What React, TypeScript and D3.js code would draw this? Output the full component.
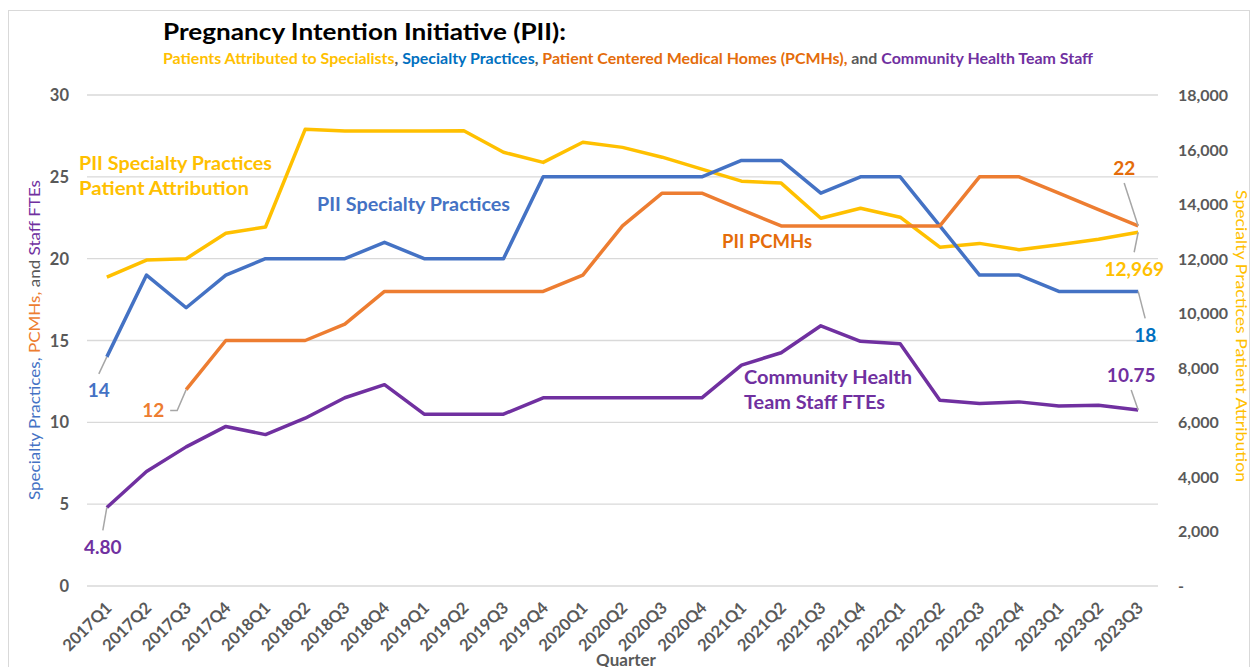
import React from 'react';
import * as d3 from 'd3';

// 분기 카테고리
const quarters = [
  '2017Q1', '2017Q2', '2017Q3', '2017Q4',
  '2018Q1', '2018Q2', '2018Q3', '2018Q4',
  '2019Q1', '2019Q2', '2019Q3', '2019Q4',
  '2020Q1', '2020Q2', '2020Q3', '2020Q4',
  '2021Q1', '2021Q2', '2021Q3', '2021Q4',
  '2022Q1', '2022Q2', '2022Q3', '2022Q4',
  '2023Q1', '2023Q2', '2023Q3'
];

// left axis series
const practices = [14, 19, 17, 19, 20, 20, 20, 21, 20, 20, 20, 25, 25, 25, 25, 25, 26, 26, 24, 25, 25, 22, 19, 19, 18, 18, 18];
const pcmhs: (number | null)[] = [null, null, 12, 15, 15, 15, 16, 18, 18, 18, 18, 18, 19, 22, 24, 24, 23, 22, 22, 22, 22, 22, 25, 25, 24, 23, 22];
const staffFtes = [4.8, 7.0, 8.5, 9.75, 9.25, 10.25, 11.5, 12.3, 10.5, 10.5, 10.5, 11.5, 11.5, 11.5, 11.5, 11.5, 13.5, 14.25, 15.9, 14.95, 14.8, 11.35, 11.15, 11.25, 11.0, 11.05, 10.75];

// right axis series
const attribution = [11320, 11950, 12000, 12930, 13160, 16740, 16680, 16680, 16680, 16690, 15900, 15530, 16270, 16080, 15720, 15280, 14840, 14770, 13480, 13850, 13520, 12420, 12560, 12330, 12510, 12710, 12969];

const leftTicks = [0, 5, 10, 15, 20, 25, 30];
const rightTicks = [0, 2000, 4000, 6000, 8000, 10000, 12000, 14000, 16000, 18000];

const COLORS = {
  blue: '#4472C4',
  blueText: '#0070C0',
  orange: '#ED7D31',
  orangeText: '#E46C0A',
  purple: '#7030A0',
  yellow: '#FFC000',
  gray: '#595959',
  grid: '#D9D9D9',
  leader: '#A6A6A6'
} as const;

const FONT = 'Lato, "Open Sans", sans-serif';

const W = 1253;
const H = 667;

export default function App() {
  const x = d3.scaleBand<string>().domain(quarters).range([87, 1158]);
  const cx = (i: number) => (x(quarters[i]) ?? 0) + x.bandwidth() / 2;
  const yL = d3.scaleLinear().domain([0, 30]).range([586, 95]);
  const yR = d3.scaleLinear().domain([0, 18000]).range([586, 95]);

  const lineL = d3.line<number | null>()
    .defined(d => d !== null)
    .x((_, i) => cx(i))
    .y(d => yL(d as number));
  const lineR = d3.line<number>()
    .x((_, i) => cx(i))
    .y(d => yR(d));

  const last = quarters.length - 1;
  const fmtR = (v: number) => (v === 0 ? '-' : d3.format(',')(v));

  // 데이터 레이블 리더 라인 (점 기준 오프셋)
  const leader = (px: number, py: number, pts: [number, number][]) =>
    [[px, py], ...pts.map(([dx, dy]) => [px + dx, py + dy])].map(p => p.join(',')).join(' ');

  return (
    <svg width={W} height={H} style={{ position: 'absolute', left: 0, top: 0, background: '#fff' }} fontFamily={FONT}>
      <rect x={8.5} y={10.5} width={1241} height={700} fill="#fff" stroke={COLORS.grid} strokeWidth={1} />

      {/* 제목 */}
      <text x={163} y={40} fontSize={23} fontWeight={700} fill="#000" textLength={403} lengthAdjust="spacingAndGlyphs">
        Pregnancy Intention Initiative (PII):
      </text>
      <text x={163} y={64} fontSize={14.5} fontWeight={700} textLength={930} lengthAdjust="spacingAndGlyphs">
        <tspan fill={COLORS.yellow}>Patients Attributed to Specialists</tspan>
        <tspan fill={COLORS.gray}>, </tspan>
        <tspan fill={COLORS.blueText}>Specialty Practices</tspan>
        <tspan fill={COLORS.gray}>, </tspan>
        <tspan fill={COLORS.orangeText}>Patient Centered Medical Homes (PCMHs),</tspan>
        <tspan fill={COLORS.gray}> and </tspan>
        <tspan fill={COLORS.purple}>Community Health Team Staff</tspan>
      </text>

      {/* 그리드 */}
      {leftTicks.map(t => (
        <line key={t} x1={87} x2={1158} y1={yL(t)} y2={yL(t)} stroke={COLORS.grid} strokeWidth={1.3} />
      ))}

      {/* left ticks */}
      {leftTicks.map(t => (
        <text key={t} x={69} y={yL(t) + 6} textAnchor="end" fontSize={16.5} fontWeight={700} fill={COLORS.gray}>
          {t}
        </text>
      ))}

      {/* right ticks */}
      {rightTicks.map(t => (
        <text key={t} x={1178} y={yR(t) + 6} fontSize={16} fontWeight={700} fill={COLORS.gray}>
          {fmtR(t)}
        </text>
      ))}

      {/* x ticks */}
      {quarters.map((q, i) => (
        <text
          key={q}
          transform={`translate(${cx(i) + 6},${609}) rotate(-45)`}
          textAnchor="end"
          fontSize={16.5}
          fontWeight={700}
          fill={COLORS.gray}
        >
          {q}
        </text>
      ))}
      <text x={626} y={666} textAnchor="middle" fontSize={17} fontWeight={700} fill={COLORS.gray}>Quarter</text>

      {/* axis titles */}
      <text transform="translate(40,340) rotate(-90)" textAnchor="middle" fontSize={15.5} textLength={320} lengthAdjust="spacingAndGlyphs">
        <tspan fill={COLORS.blue}>Specialty Practices, </tspan>
        <tspan fill={COLORS.orange}>PCMHs, </tspan>
        <tspan fill={COLORS.gray}>and </tspan>
        <tspan fill={COLORS.purple}>Staff FTEs</tspan>
      </text>
      <text transform="translate(1236,336) rotate(90)" textAnchor="middle" fontSize={15.5} fill={COLORS.yellow} textLength={292} lengthAdjust="spacingAndGlyphs">
        Specialty Practices Patient Attribution
      </text>

      {/* 선 */}
      <path d={lineR(attribution) || ''} fill="none" stroke={COLORS.yellow} strokeWidth={3.5} strokeLinejoin="round" />
      <path d={lineL(practices) || ''} fill="none" stroke={COLORS.blue} strokeWidth={3.5} strokeLinejoin="round" />
      <path d={lineL(pcmhs) || ''} fill="none" stroke={COLORS.orange} strokeWidth={3.5} strokeLinejoin="round" />
      <path d={lineL(staffFtes) || ''} fill="none" stroke={COLORS.purple} strokeWidth={3.5} strokeLinejoin="round" />

      {/* series labels */}
      <text x={79} y={170} fontSize={18.5} fontWeight={700} fill={COLORS.yellow} textLength={193} lengthAdjust="spacingAndGlyphs">PII Specialty Practices</text>
      <text x={79} y={195} fontSize={18.5} fontWeight={700} fill={COLORS.yellow} textLength={170} lengthAdjust="spacingAndGlyphs">Patient Attribution</text>
      <text x={317} y={211} fontSize={18} fontWeight={700} fill={COLORS.blue} textLength={193} lengthAdjust="spacingAndGlyphs">PII Specialty Practices</text>
      <text x={722} y={248} fontSize={18} fontWeight={700} fill={COLORS.orangeText} textLength={90} lengthAdjust="spacingAndGlyphs">PII PCMHs</text>
      <text x={744} y={384} fontSize={18} fontWeight={700} fill={COLORS.purple} textLength={168} lengthAdjust="spacingAndGlyphs">Community Health</text>
      <text x={744} y={409} fontSize={18} fontWeight={700} fill={COLORS.purple} textLength={141} lengthAdjust="spacingAndGlyphs">Team Staff FTEs</text>

      {/* 리더 라인 */}
      <g fill="none" stroke={COLORS.leader} strokeWidth={1.5}>
        <polyline points={leader(cx(0), yL(practices[0]), [[-8, 17]])} />
        <polyline points={leader(cx(2), yL(pcmhs[2] as number), [[-9, 21], [-16, 21]])} />
        <polyline points={leader(cx(0), yL(staffFtes[0]), [[-4, 23]])} />
        <polyline points={leader(cx(last), yL(pcmhs[last] as number), [[-14, -43]])} />
        <polyline points={leader(cx(last), yR(attribution[last]), [[-4, 20]])} />
        <polyline points={leader(cx(last), yL(practices[last]), [[7, 27]])} />
        <polyline points={leader(cx(last), yL(staffFtes[last]), [[-7, -20]])} />
      </g>

      {/* 데이터 레이블 */}
      <g fontSize={19} fontWeight={700}>
        <text x={cx(0) - 8} y={397} textAnchor="middle" fill={COLORS.blue}>{practices[0]}</text>
        <text x={cx(2) - 33} y={417} textAnchor="middle" fill={COLORS.orange}>{pcmhs[2]}</text>
        <text x={cx(0) - 4} y={554} textAnchor="middle" fill={COLORS.purple}>{staffFtes[0].toFixed(2)}</text>
        <text x={cx(last) - 14} y={175} textAnchor="middle" fill={COLORS.orangeText}>{pcmhs[last]}</text>
        <text x={cx(last) - 4} y={276} textAnchor="middle" fill={COLORS.yellow}>{d3.format(',')(attribution[last])}</text>
        <text x={cx(last) + 7} y={342} textAnchor="middle" fill={COLORS.blueText}>{practices[last]}</text>
        <text x={cx(last) - 7} y={382} textAnchor="middle" fill={COLORS.purple}>{staffFtes[last].toFixed(2)}</text>
      </g>
    </svg>
  );
}
